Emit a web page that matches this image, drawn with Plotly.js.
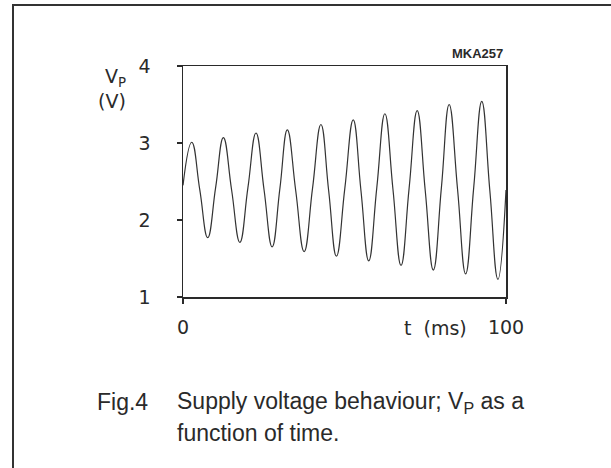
<!DOCTYPE html>
<html>
<head>
<meta charset="utf-8">
<script src="https://cdn.plot.ly/plotly-3.0.1.min.js"></script>
<style>
html,body{margin:0;padding:0;background:#fff;}
#chart{width:611px;height:468px;}
</style>
</head>
<body>
<div id="chart"></div>
<script>
// Time (ms) at peaks, troughs and mid-crossings
const timeMs = [0, 2.7, 5.2, 7.65, 10.1, 12.5, 15.05, 17.6, 20.1, 22.6, 25.1, 27.6, 30.0, 32.3, 34.9, 37.5, 40.1, 42.7, 45.1, 47.5, 50.1, 52.7, 55.1, 57.5, 60.0, 62.5, 65.0, 67.5, 70.0, 72.5, 75.0, 77.5, 80.0, 82.4, 85.0, 87.5, 90.0, 92.5, 95.0, 97.5, 100];
// Supply voltage VP (V)
const vpVolts = [2.45, 3.01, 2.39, 1.77, 2.42, 3.07, 2.39, 1.71, 2.42, 3.13, 2.39, 1.65, 2.41, 3.17, 2.38, 1.59, 2.41, 3.24, 2.38, 1.53, 2.41, 3.30, 2.38, 1.47, 2.42, 3.38, 2.40, 1.41, 2.41, 3.42, 2.38, 1.35, 2.42, 3.50, 2.40, 1.30, 2.42, 3.54, 2.38, 1.23, 2.39];

const yTickVals = [1, 2, 3, 4];
const yTickText = ['1', '2', '3', '4'];
const xTickVals = [0, 100];
const xTickText = ['0', '100'];

const L = 183, R = 105, T = 66, B = 171;
const W = 611, H = 468;
const PW = W - L - R, PH = H - T - B;
const px = v => (v - L) / PW;
const py = v => (H - B - v) / PH;

const ink = '#2a2a2a';
const tickFont = {family: 'DejaVu Sans, sans-serif', size: 19, color: ink};
const capFont = {family: 'Liberation Sans, Arial, sans-serif', size: 23, color: ink};

const data = [{
  x: timeMs,
  y: vpVolts,
  type: 'scatter',
  mode: 'lines',
  line: {color: '#333', width: 1.2, shape: 'spline', smoothing: 1.3},
  hoverinfo: 'skip'
}];

const layout = {
  width: W, height: H,
  margin: {l: L, r: R, t: T, b: B, pad: 0},
  paper_bgcolor: '#fff', plot_bgcolor: '#fff',
  showlegend: false,
  xaxis: {
    range: [0, 100], showgrid: false, zeroline: false,
    showline: true, mirror: true, linecolor: ink, linewidth: 1.5,
    ticks: 'outside', ticklen: 5, tickwidth: 1.5, tickcolor: ink,
    tickvals: xTickVals, ticktext: xTickText, tickfont: tickFont,
    ticklabelstandoff: 8
  },
  yaxis: {
    range: [1, 4], showgrid: false, zeroline: false,
    showline: true, mirror: true, linecolor: ink, linewidth: 1.5,
    ticks: 'outside', ticklen: 5, tickwidth: 1.5, tickcolor: ink,
    tickvals: yTickVals, ticktext: yTickText, tickfont: tickFont,
    ticklabelstandoff: 22
  },
  shapes: [
    {type: 'line', xref: 'paper', yref: 'paper', x0: px(12), x1: px(611), y0: py(5), y1: py(5), line: {color: '#333', width: 2}},
    {type: 'line', xref: 'paper', yref: 'paper', x0: px(13), x1: px(13), y0: py(5), y1: py(468), line: {color: '#333', width: 2}}
  ],
  annotations: [
    {xref: 'paper', yref: 'paper', x: px(505), y: py(53), xanchor: 'right', yanchor: 'middle', showarrow: false,
     text: '<b>MKA257</b>', font: {family: 'Liberation Sans, Arial, sans-serif', size: 13, color: ink}},
    {xref: 'paper', yref: 'paper', x: px(128), y: py(77), xanchor: 'right', yanchor: 'middle', showarrow: false,
     text: 'V<sub>P</sub>', font: tickFont},
    {xref: 'paper', yref: 'paper', x: px(128), y: py(101), xanchor: 'right', yanchor: 'middle', showarrow: false,
     text: '(V)', font: tickFont},
    {xref: 'paper', yref: 'paper', x: px(402), y: py(328), xanchor: 'left', yanchor: 'middle', showarrow: false,
     text: 't&nbsp; (ms)', font: tickFont},
    {xref: 'paper', yref: 'paper', x: px(95), y: py(402), xanchor: 'left', yanchor: 'middle', showarrow: false,
     text: 'Fig.4', font: capFont},
    {xref: 'paper', yref: 'paper', x: px(175), y: py(402), xanchor: 'left', yanchor: 'middle', showarrow: false,
     text: 'Supply voltage behaviour; V<sub>P</sub> as a', font: capFont},
    {xref: 'paper', yref: 'paper', x: px(175), y: py(433), xanchor: 'left', yanchor: 'middle', showarrow: false,
     text: 'function of time.', font: capFont}
  ]
};

Plotly.newPlot('chart', data, layout, {staticPlot: true, displayModeBar: false});
</script>
</body>
</html>
